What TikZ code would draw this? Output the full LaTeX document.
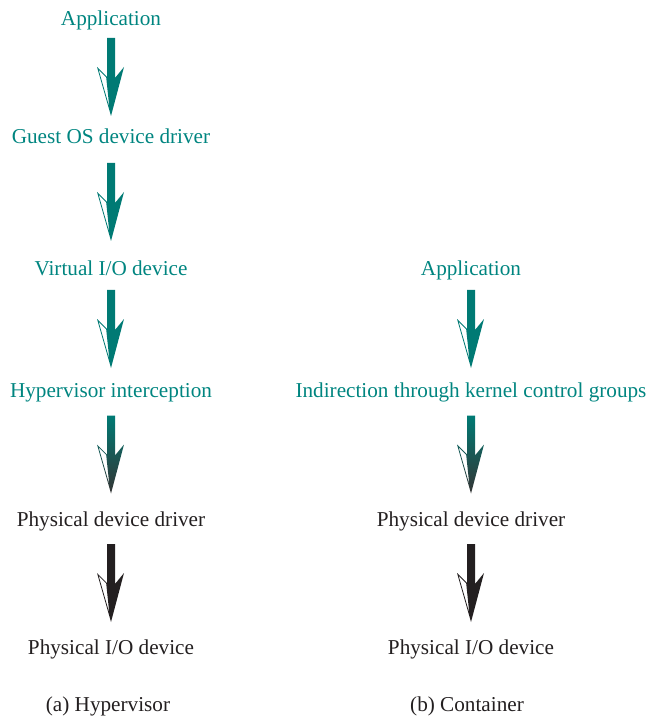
\documentclass[tikz,border=0pt]{standalone}
\usepackage{fontspec}
\setmainfont{Liberation Serif}
\usetikzlibrary{positioning,calc}
\definecolor{ioteal}{RGB}{0,133,128}
\definecolor{ioarrow}{RGB}{0,122,116}
\definecolor{iodark}{RGB}{35,31,32}
\definecolor{iogrey}{RGB}{52,52,52}

\begin{document}
\begin{tikzpicture}[x=0.5pt, y=-0.5pt, node distance=59pt, on grid,
  lbl/.style={inner sep=0pt,text height=10pt,text depth=2.2pt,font=\fontsize{10.6}{12}\selectfont},
  virt/.style={lbl,text=ioteal},
  phys/.style={lbl,text=iodark},
  pics/flowarrow/.style={code={
    \path[pic actions,even odd rule] (-4,-39) -- (4,-39) -- (4,1) -- (13,-10) -- (0,39) -- (-14,-10) -- (-4,0) -- cycle
      (-12.4,-7.3) -- (-4.8,0.4) -- (-1.7,30) -- cycle;}}]
\useasboundingbox (0,0) rectangle (647,716);
% (a) hypervisor
\node[virt] (app) at (111,18) {Application};
\node[virt,below=59pt of app] (guest) {Guest OS device driver};
\node[virt,below=66pt of guest] (vio) {Virtual I/O device};
\node[virt,below=61pt of vio] (hyp) {Hypervisor interception};
\node[phys,below=64.5pt of hyp] (pdrv) {Physical device driver};
\node[phys,below=64pt of pdrv] (pio) {Physical I/O device};
\node[phys,below left=28.5pt and 1.5pt of pio] (capa) {(a) Hypervisor};
% (b) container
\node[virt,right=180pt of vio] (capp) {Application};
\node[virt,below=61pt of capp] (cind) {Indirection through kernel control groups};
\node[phys,below=64.5pt of cind] (cdrv) {Physical device driver};
\node[phys,below=64pt of cdrv] (cio) {Physical I/O device};
\node[phys,below left=28.5pt and 2pt of cio] (capb) {(b) Container};
% arrows
\foreach \a/\b in {app/guest,guest/vio,vio/hyp,capp/cind}
  \pic[fill=ioarrow] at ($(\a)!0.5!(\b)$) {flowarrow};
\foreach \a/\b in {hyp/pdrv,cind/cdrv}
  \pic[top color=ioarrow,bottom color=iogrey] at ($(\a)!0.5!(\b)$) {flowarrow};
\foreach \a/\b in {pdrv/pio,cdrv/cio}
  \pic[fill=iodark] at ($(\a)!0.5!(\b)$) {flowarrow};
\end{tikzpicture}
\end{document}
